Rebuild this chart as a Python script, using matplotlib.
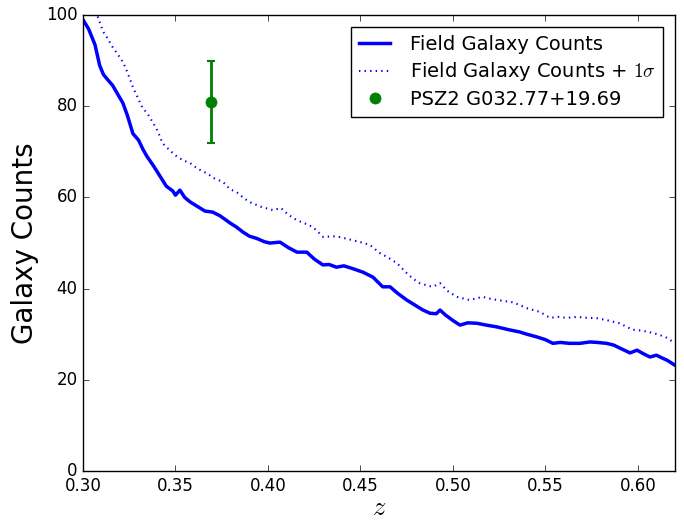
import matplotlib
matplotlib.use('Agg')
import matplotlib.pyplot as plt

plt.style.use('classic')

# Field galaxy counts
z_field = [0.300, 0.303, 0.3065, 0.309, 0.311, 0.313, 0.316, 0.319, 0.3216, 0.324,
           0.327, 0.330, 0.3325, 0.3346, 0.338, 0.3416, 0.345, 0.3486, 0.350, 0.3524,
           0.355, 0.358, 0.362, 0.366, 0.370, 0.374, 0.3795, 0.383, 0.3865, 0.390,
           0.394, 0.398, 0.401, 0.4065, 0.411, 0.4157, 0.421, 0.425, 0.4297, 0.433,
           0.437, 0.441, 0.445, 0.4514, 0.4568, 0.462, 0.466, 0.470, 0.475, 0.479,
           0.4838, 0.4876, 0.491, 0.493, 0.496, 0.500, 0.5038, 0.508, 0.513, 0.518,
           0.5238, 0.530, 0.536, 0.540, 0.5454, 0.550, 0.554, 0.558, 0.563, 0.5686,
           0.574, 0.578, 0.583, 0.587, 0.590, 0.5957, 0.5995, 0.603, 0.6065, 0.610,
           0.613, 0.6157, 0.620]
counts_field = [99, 97, 93.5, 89, 87, 86, 84.6, 82.5, 80.7, 78,
                74, 72.6, 70.5, 69, 67, 64.7, 62.5, 61.4, 60.5, 61.6,
                60, 59, 58, 57, 56.8, 56, 54.4, 53.5, 52.4, 51.5,
                51, 50.3, 50, 50.2, 49, 48, 48, 46.5, 45.2, 45.3,
                44.7, 45, 44.5, 43.6, 42.5, 40.4, 40.4, 39, 37.5, 36.5,
                35.3, 34.6, 34.5, 35.3, 34.2, 33, 32, 32.5, 32.4, 32,
                31.6, 31, 30.5, 30, 29.4, 28.8, 28, 28.2, 28, 28,
                28.3, 28.2, 28, 27.6, 27, 25.9, 26.5, 25.7, 25, 25.4,
                24.8, 24.3, 23.2]

# Field galaxy counts + 1 sigma
z_sigma = [0.306, 0.308, 0.311, 0.3135, 0.316, 0.319, 0.3216, 0.324, 0.327, 0.3295,
           0.332, 0.335, 0.338, 0.3405, 0.343, 0.347, 0.351, 0.354, 0.358, 0.362,
           0.367, 0.371, 0.3757, 0.3795, 0.383, 0.3865, 0.390, 0.396, 0.4027, 0.407,
           0.411, 0.4157, 0.420, 0.4243, 0.430, 0.435, 0.439, 0.446, 0.450, 0.455,
           0.4605, 0.465, 0.4697, 0.475, 0.478, 0.482, 0.486, 0.489, 0.493, 0.497,
           0.502, 0.509, 0.516, 0.520, 0.524, 0.5324, 0.536, 0.540, 0.547, 0.5524,
           0.557, 0.5616, 0.567, 0.5724, 0.578, 0.583, 0.590, 0.597, 0.602, 0.608,
           0.612, 0.6157, 0.620]
counts_sigma = [102, 99.6, 96.3, 94.8, 93, 91.3, 89.7, 87.5, 84.2, 82,
                79.8, 78.3, 76.3, 74.5, 71.9, 70.3, 68.9, 68.2, 67.5, 66.3,
                65.3, 64.2, 63.4, 61.8, 61.2, 60, 59, 58, 57.2, 57.7,
                56.2, 55, 54.3, 53.5, 51.3, 51.5, 51.3, 50.6, 50.2, 49.6,
                47.8, 46.8, 45.6, 43.4, 42.3, 41.2, 40.7, 40.4, 41.2, 39.5,
                38.2, 37.5, 38.2, 37.8, 37.5, 37, 36.4, 35.7, 34.9, 33.6,
                33.8, 33.6, 33.8, 33.6, 33.5, 33.1, 32.4, 31, 30.8, 30.3,
                29.8, 29.2, 28]

# Cluster
cluster_name = 'PSZ2 G032.77+19.69'
cluster_z = [0.369]
cluster_counts = [81]
cluster_err = [9]

fig = plt.figure(figsize=(6.84, 5.21), dpi=100, facecolor='white')
ax = fig.add_axes([0.1213, 0.096, 0.8655, 0.875])

ax.plot(z_field, counts_field, 'b-', lw=2.5, label='Field Galaxy Counts')
ax.plot(z_sigma, counts_sigma, 'b:', lw=1.5, label=r'Field Galaxy Counts + $1\sigma$')
ax.errorbar(cluster_z, cluster_counts, yerr=cluster_err, fmt='none', ecolor='g',
            elinewidth=2, capsize=3, capthick=1.5)
ax.plot(cluster_z, cluster_counts, 'go', ms=8, mec='g', label=cluster_name)

ax.set_xlim(0.30, 0.62)
ax.set_ylim(0, 100)
ax.set_xticks([0.30, 0.35, 0.40, 0.45, 0.50, 0.55, 0.60])
ax.set_xticklabels(['0.30', '0.35', '0.40', '0.45', '0.50', '0.55', '0.60'])
ax.tick_params(labelsize=12)
ax.set_xlabel(r'$z$', fontsize=19, labelpad=0)
ax.set_ylabel('Galaxy Counts', fontsize=20)

ax.legend(loc='upper right', numpoints=1, fontsize=14, fancybox=False,
          handlelength=1.6, handletextpad=1.0, labelspacing=0.35,
          borderaxespad=0.6)

fig.savefig('out.png', dpi=100, facecolor='white')
